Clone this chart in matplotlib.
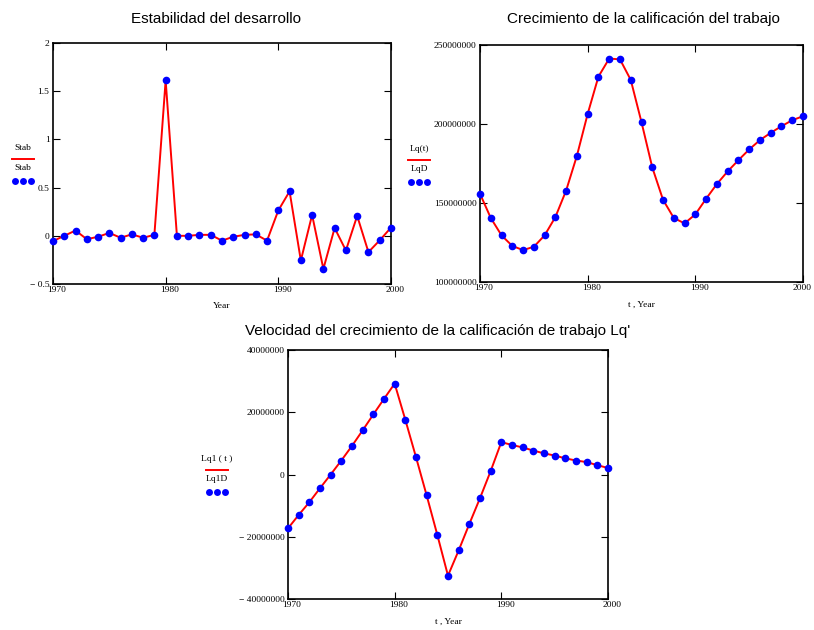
import matplotlib
matplotlib.use('Agg')
import matplotlib.pyplot as plt
from matplotlib.transforms import ScaledTranslation

years = list(range(1970, 2001))

stab = [-0.055, 0.0, 0.055, -0.035, -0.01, 0.03, -0.02, 0.015, -0.02, 0.01,
        1.613, 0.0, 0.0, 0.01, 0.01, -0.05, -0.01, 0.01, 0.015, -0.05,
        0.263, 0.461, -0.256, 0.217, -0.343, 0.081, -0.152, 0.207, -0.169, -0.047,
        0.085]

lq = [155.8, 140.5, 129.5, 122.8, 120.2, 122.3, 129.5, 141.1, 157.9, 179.9,
      206.4, 230.0, 241.4, 240.9, 227.9, 201.1, 172.5, 152.0, 140.5, 137.1,
      142.8, 152.7, 162.0, 170.0, 177.1, 183.9, 189.8, 194.4, 198.6, 202.4,
      204.9]
lq = [v * 1e6 for v in lq]

lq1 = [-17.3, -13.0, -8.9, -4.4, 0.0, 4.5, 9.2, 14.2, 19.3, 24.3,
       29.2, 17.6, 5.6, -6.7, -19.4, -32.5, -24.4, -15.9, -7.6, 1.1,
       10.4, 9.5, 8.7, 7.7, 6.8, 6.1, 5.2, 4.5, 4.0, 3.0,
       2.1]
lq1 = [v * 1e6 for v in lq1]

stab_ticks = [-0.5, 0, 0.5, 1, 1.5, 2]
stab_labels = ['\u2212 0.5', '0', '0.5', '1', '1.5', '2']
lq_ticks = [100000000, 150000000, 200000000, 250000000]
lq_labels = ['100000000', '150000000', '200000000', '250000000']
lq1_ticks = [-40000000, -20000000, 0, 20000000, 40000000]
lq1_labels = ['\u2212 40000000', '\u2212 20000000', '0', '20000000', '40000000']
x_ticks = [1970, 1980, 1990, 2000]

serif = 'Liberation Serif'
sans = 'Liberation Sans'
W, H = 814, 630

fig = plt.figure(figsize=(8.14, 6.30), dpi=100)
fig.set_facecolor('white')


def make_panel(rect, x, y, yticks, ylabels, ylim, title, title_xy, xlabel,
               leg_line, leg_dots, leg_xy, last_shift=4):
    ax = fig.add_axes(rect)
    ax.plot(x, y, color='red', linewidth=1.4, zorder=2, clip_on=False)
    ax.plot(x, y, 'o', color='blue', markersize=5.5, markeredgewidth=0, zorder=3, clip_on=False)
    ax.set_xlim(1970, 2000)
    ax.set_ylim(*ylim)
    ax.set_xticks(x_ticks)
    ax.set_xticklabels([str(t) for t in x_ticks], fontfamily=serif, fontsize=6.8)
    ax.set_yticks(yticks)
    ax.set_yticklabels(ylabels, fontfamily=serif, fontsize=6.8)
    ax.tick_params(direction='in', length=5, width=0.8, top=True, right=True)
    ax.tick_params(axis='x', pad=1.5)
    ax.tick_params(axis='y', pad=2.5)
    # x labels sit a little right of their ticks in the original
    labs = ax.get_xticklabels()
    for i, lab in enumerate(labs):
        dx = last_shift if i == len(labs) - 1 else 4
        lab.set_transform(lab.get_transform() + ScaledTranslation(dx / 100, 0, fig.dpi_scale_trans))
    for s in ax.spines.values():
        s.set_linewidth(1.2)
    ax.set_xlabel(xlabel, fontfamily=serif, fontsize=6.8, labelpad=6)

    tx, ty = title_xy
    fig.text(tx / W, 1 - ty / H, title, ha='center', va='baseline',
             fontfamily=sans, fontsize=11)

    # legend at the left of the axes
    lx, ly = leg_xy
    fig.text(lx / W, 1 - ly / H, leg_line, ha='center', va='bottom',
             fontfamily=serif, fontsize=6.8)
    fig.add_artist(plt.Line2D([(lx - 11) / W, (lx + 11) / W],
                              [1 - (ly + 7) / H, 1 - (ly + 7) / H],
                              color='red', linewidth=1.4))
    fig.text(lx / W, 1 - (ly + 20) / H, leg_dots, ha='center', va='bottom',
             fontfamily=serif, fontsize=6.8)
    fig.add_artist(plt.Line2D([(lx - 8) / W, lx / W, (lx + 8) / W],
                              [1 - (ly + 29) / H] * 3,
                              linestyle='none', marker='o', color='blue',
                              markersize=5, markeredgewidth=0))
    return ax


make_panel([0.0651, 0.5492, 0.4152, 0.3825], years, stab, stab_ticks, stab_labels,
           (-0.5, 2), 'Estabilidad del desarrollo', (216, 23), 'Year', 'Stab', 'Stab', (23, 152))
make_panel([0.5897, 0.5524, 0.3968, 0.3762], years, lq, lq_ticks, lq_labels,
           (100000000, 250000000), 'Crecimiento de la calificación del trabajo', (643, 23),
           't , Year', 'Lq(t)', 'LqD', (419, 153), last_shift=-1)
make_panel([0.3538, 0.0492, 0.3931, 0.3952], years, lq1, lq1_ticks, lq1_labels,
           (-40000000, 40000000), "Velocidad del crecimiento de la calificación de trabajo Lq'",
           (438, 335), 't , Year', 'Lq1 ( t )', 'Lq1D', (217, 463))

plt.savefig('out.png', dpi=100)
